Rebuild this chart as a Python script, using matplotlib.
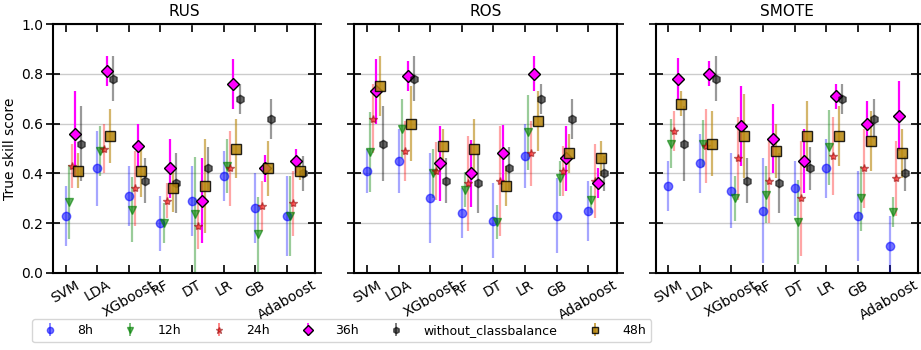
import matplotlib
matplotlib.use("Agg")
import matplotlib.pyplot as plt
import numpy as np

models = ["SVM", "LDA", "XGboost", "RF", "DT", "LR", "GB", "Adaboost"]
methods = ["RUS", "ROS", "SMOTE"]

# without class balance (same in every panel)
nob_mean = [0.52, 0.78, 0.37, 0.36, 0.42, 0.70, 0.62, 0.40]
nob_std = [0.15, 0.09, 0.09, 0.12, 0.085, 0.06, 0.08, 0.07]

# RUS
rus_8h = [0.23, 0.42, 0.31, 0.20, 0.29, 0.39, 0.26, 0.23]
rus_8h_std = [0.12, 0.15, 0.12, 0.11, 0.14, 0.10, 0.14, 0.16]
rus_12h = [0.285, 0.49, 0.255, 0.20, 0.235, 0.43, 0.155, 0.23]
rus_12h_std = [0.15, 0.10, 0.13, 0.08, 0.23, 0.11, 0.15, 0.16]
rus_24h = [0.43, 0.50, 0.34, 0.29, 0.19, 0.42, 0.27, 0.28]
rus_24h_std = [0.09, 0.10, 0.15, 0.07, 0.095, 0.15, 0.10, 0.13]
rus_36h = [0.56, 0.81, 0.51, 0.42, 0.29, 0.76, 0.42, 0.45]
rus_36h_std = [0.17, 0.06, 0.09, 0.12, 0.17, 0.10, 0.055, 0.05]
rus_48h = [0.41, 0.55, 0.41, 0.34, 0.35, 0.50, 0.42, 0.41]
rus_48h_std = [0.07, 0.11, 0.105, 0.095, 0.19, 0.12, 0.11, 0.035]

# ROS
ros_8h = [0.41, 0.45, 0.30, 0.24, 0.21, 0.47, 0.23, 0.25]
ros_8h_std = [0.09, 0.13, 0.18, 0.10, 0.15, 0.13, 0.15, 0.12]
ros_12h = [0.485, 0.58, 0.40, 0.335, 0.205, 0.565, 0.38, 0.295]
ros_12h_std = [0.16, 0.12, 0.10, 0.07, 0.07, 0.15, 0.07, 0.055]
ros_24h = [0.62, 0.49, 0.41, 0.36, 0.37, 0.48, 0.41, 0.37]
ros_24h_std = [0.14, 0.12, 0.115, 0.19, 0.22, 0.13, 0.10, 0.15]
ros_36h = [0.73, 0.79, 0.44, 0.40, 0.48, 0.80, 0.46, 0.36]
ros_36h_std = [0.13, 0.06, 0.15, 0.135, 0.115, 0.07, 0.13, 0.06]
ros_48h = [0.75, 0.60, 0.51, 0.50, 0.35, 0.61, 0.48, 0.46]
ros_48h_std = [0.12, 0.15, 0.07, 0.12, 0.08, 0.12, 0.08, 0.07]

# SMOTE
smote_8h = [0.35, 0.44, 0.33, 0.25, 0.34, 0.42, 0.23, 0.11]
smote_8h_std = [0.10, 0.12, 0.15, 0.21, 0.11, 0.12, 0.18, 0.12]
smote_12h = [0.52, 0.52, 0.30, 0.315, 0.205, 0.505, 0.30, 0.245]
smote_12h_std = [0.10, 0.095, 0.09, 0.115, 0.17, 0.15, 0.13, 0.06]
smote_24h = [0.57, 0.51, 0.46, 0.37, 0.30, 0.47, 0.42, 0.38]
smote_24h_std = [0.08, 0.15, 0.165, 0.17, 0.23, 0.155, 0.16, 0.15]
smote_36h = [0.78, 0.80, 0.59, 0.54, 0.45, 0.71, 0.60, 0.63]
smote_36h_std = [0.085, 0.05, 0.16, 0.14, 0.13, 0.05, 0.09, 0.14]
smote_48h = [0.68, 0.52, 0.55, 0.49, 0.55, 0.55, 0.53, 0.48]
smote_48h_std = [0.05, 0.13, 0.17, 0.11, 0.14, 0.12, 0.12, 0.10]

panels = {
    "RUS": [(rus_8h, rus_8h_std), (rus_12h, rus_12h_std), (rus_24h, rus_24h_std),
            (rus_36h, rus_36h_std), (nob_mean, nob_std), (rus_48h, rus_48h_std)],
    "ROS": [(ros_8h, ros_8h_std), (ros_12h, ros_12h_std), (ros_24h, ros_24h_std),
            (ros_36h, ros_36h_std), (nob_mean, nob_std), (ros_48h, ros_48h_std)],
    "SMOTE": [(smote_8h, smote_8h_std), (smote_12h, smote_12h_std), (smote_24h, smote_24h_std),
              (smote_36h, smote_36h_std), (nob_mean, nob_std), (smote_48h, smote_48h_std)],
}

# label, offset, marker, size, face colour, marker alpha, edge colour, bar colour, bar alpha
styles = [
    ("8h", 0.0, "o", 6, "blue", 0.55, "none", "blue", 0.35),
    ("12h", 0.1, "v", 6, "green", 0.6, "none", "green", 0.4),
    ("24h", 0.2, "*", 6, "red", 0.55, "darkred", "red", 0.35),
    ("36h", 0.3, "D", 6.5, "magenta", 1.0, "black", "magenta", 1.0),
    ("without_classbalance", 0.5, "h", 6, "black", 0.6, "none", "black", 0.4),
    ("48h", 0.4, "s", 6.5, "darkgoldenrod", 0.85, "black", "darkgoldenrod", 0.6),
]

fig, axes = plt.subplots(1, 3, figsize=(9.21, 3.5), dpi=100, sharey=True)
fig.subplots_adjust(left=0.0575, right=0.9967, bottom=0.22, top=0.9314, wspace=0.148)

x = np.arange(len(models))
handles = []
for ax, name in zip(axes, methods):
    ax.set_axisbelow(True)
    ax.grid(axis="y", color="#cccccc", lw=1)
    for (mean, std), st in zip(panels[name], styles):
        lab, off, mk, ms, fc, malpha, ec, bc, balpha = st
        ax.errorbar(x + off, mean, yerr=std, fmt="none", ecolor=bc,
                    alpha=balpha, elinewidth=1.6, zorder=2)
        ax.plot(x + off, mean, ls="none", marker=mk, ms=ms, mfc=fc,
                mec=ec if ec != "none" else fc, alpha=malpha, zorder=3)
        if name == "RUS":
            h = ax.errorbar([], [], yerr=[], fmt=mk, ms=ms - 1.5, color=fc,
                            mec=ec if ec != "none" else fc, ecolor=bc,
                            alpha=malpha, elinewidth=1.2, label=lab)
            handles.append(h)
    ax.set_title(name, fontsize=11)
    ax.set_ylim(0, 1.0)
    ax.set_xlim(-0.4, 7.9)
    ax.set_xticks(x)
    ax.set_xticklabels(models, rotation=30, fontsize=10)
    ax.set_yticks([0, 0.2, 0.4, 0.6, 0.8, 1.0])
    ax.tick_params(axis="x", direction="in", length=6, width=1.2, top=True)
    ax.tick_params(axis="y", direction="inout", length=10, width=1.2, right=True, pad=2)
    for sp in ax.spines.values():
        sp.set_linewidth(1.5)

axes[0].set_ylabel("True skill score", fontsize=10, labelpad=3)

fig.legend(handles=handles, loc="lower left", bbox_to_anchor=(0.028, 0.005),
           ncol=6, fontsize=9, handletextpad=1.2, columnspacing=2.0)

fig.savefig("out.png", dpi=100)
